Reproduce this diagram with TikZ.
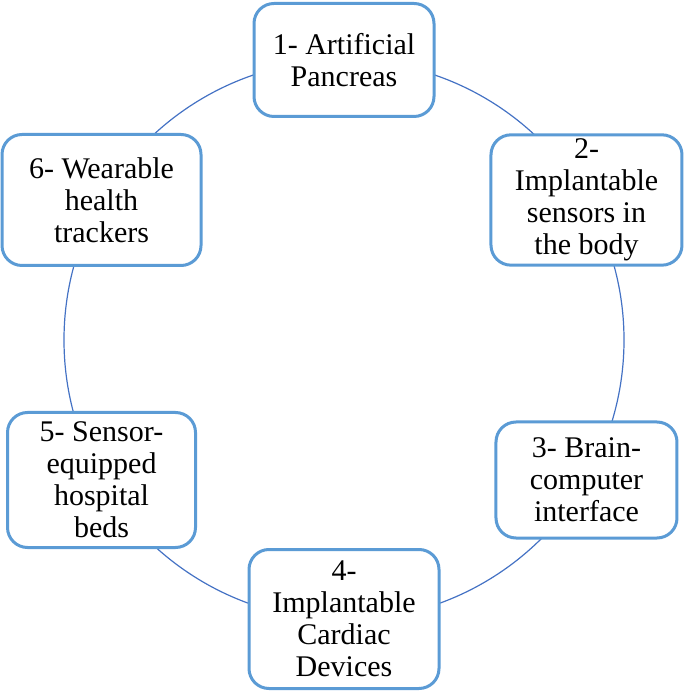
\documentclass[tikz,border=0pt]{standalone}
\usepackage{fontspec}
\setmainfont{Liberation Serif}
\usetikzlibrary{positioning}
\definecolor{boxblue}{HTML}{5B9BD5}
\definecolor{ringblue}{HTML}{4472C4}
\tikzstyle{item} = [rectangle, rounded corners=10pt, draw=boxblue, line width=1.5pt, fill=white, align=center, font=\fontsize{15}{16}\selectfont, inner sep=2pt]
\tikzstyle{ring} = [draw=ringblue, line width=0.6pt]

\begin{document}
\begin{tikzpicture}
  \useasboundingbox (-172pt,-177pt) rectangle (170.5pt,170pt);
  \coordinate (centre) at (0,0);
  \draw [ring] (centre) circle (140pt);

  \node (pro1) [item, minimum width=90pt, minimum height=56.5pt] at (90:140pt) {1- Artificial\\Pancreas};
  \node (pro2) [item, minimum width=95.5pt, minimum height=63.5pt] at (30:140pt) {2-\\Implantable\\sensors in\\the body};
  \node (pro3) [item, minimum width=90.5pt, minimum height=58pt] at (-30:140pt) {3- Brain-\\computer\\interface};
  \node (pro4) [item, minimum width=95pt, minimum height=69.5pt] at (-90:139.5pt) {4-\\Implantable\\Cardiac\\Devices};
  \node (pro5) [item, minimum width=94pt, minimum height=67.5pt] at (210:140pt) {5- Sensor-\\equipped\\hospital\\beds};
  \node (pro6) [item, minimum width=99.5pt, minimum height=65.5pt] at (150:140pt) {6- Wearable\\health\\trackers};

\end{tikzpicture}
\end{document}
